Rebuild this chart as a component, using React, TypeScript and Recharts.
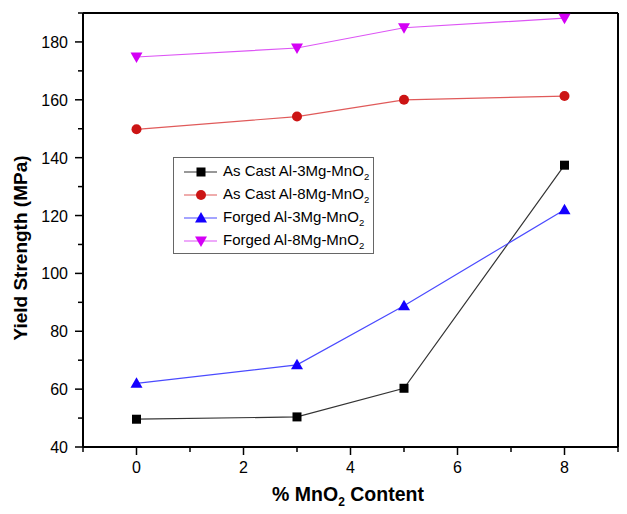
import { LineChart, Line, XAxis, YAxis, ReferenceLine } from 'recharts'

const mno2Content = [0, 3, 5, 8]
const asCast3Mg = [49.6, 50.4, 60.3, 137.4]
const asCast8Mg = [149.8, 154.2, 160.0, 161.3]
const forged3Mg = [62, 68.4, 88.8, 122]
const forged8Mg = [174.8, 177.9, 184.9, 188.2]

const xTicks = [-1, 0, 1, 2, 3, 4, 5, 6, 7, 8, 9]
const yTicks = [40, 50, 60, 70, 80, 90, 100, 110, 120, 130, 140, 150, 160, 170, 180, 190]

const seriesNames = ['As Cast Al-3Mg-MnO', 'As Cast Al-8Mg-MnO', 'Forged Al-3Mg-MnO', 'Forged Al-8Mg-MnO']

const chartData = mno2Content.map((x, i) => ({
  x,
  asCast3: asCast3Mg[i],
  asCast8: asCast8Mg[i],
  forged3: forged3Mg[i],
  forged8: forged8Mg[i],
}))

const FONT = '"Liberation Sans", Arial, sans-serif'

// marker shapes, shared by the lines and the legend
function Marker({ kind, cx, cy, color }: { kind: string, cx: number, cy: number, color: string }) {
  if (kind === 'square') return <rect x={cx - 4.5} y={cy - 4.5} width={9} height={9} fill={color} />
  if (kind === 'circle') return <circle cx={cx} cy={cy} r={5} fill={color} />
  if (kind === 'up') return <polygon points={`${cx},${cy - 6} ${cx - 6},${cy + 4.5} ${cx + 6},${cy + 4.5}`} fill={color} />
  return <polygon points={`${cx},${cy + 6} ${cx - 6},${cy - 4.5} ${cx + 6},${cy - 4.5}`} fill={color} />
}

const series = [
  { key: 'asCast3', kind: 'square', color: '#000000', line: '#333333' },
  { key: 'asCast8', kind: 'circle', color: '#cc1414', line: '#e05a5a' },
  { key: 'forged3', kind: 'up', color: '#1400ff', line: '#4a4aff' },
  { key: 'forged8', kind: 'down', color: '#d400f5', line: '#dd55f5' },
]

const XTick = (props: any) => {
  const { x, y, payload } = props
  const major = payload.value % 2 === 0
  return (
    <g>
      <line x1={x} x2={x} y1={y} y2={y + (major ? 8 : 5)} stroke="#000" strokeWidth={1.5} />
      {major && (
        <text x={x} y={y + 26} textAnchor="middle" fontSize={16} fontFamily={FONT} fill="#000">{payload.value}</text>
      )}
    </g>
  )
}

const YTick = (props: any) => {
  const { x, y, payload } = props
  const major = payload.value % 20 === 0
  return (
    <g>
      <line x1={x} x2={x - (major ? 8 : 5)} y1={y} y2={y} stroke="#000" strokeWidth={1.5} />
      {major && (
        <text x={x - 15} y={y + 6} textAnchor="end" fontSize={16} fontFamily={FONT} fill="#000">{payload.value}</text>
      )}
    </g>
  )
}

export default function App() {
  return (
    <div style={{ position: 'absolute', left: 0, top: 0, width: 627, height: 514, background: '#fff', fontFamily: FONT }}>
      <LineChart width={627} height={514} data={chartData} margin={{ top: 13, right: 9, left: 0, bottom: 0 }}>
        <XAxis
          dataKey="x"
          type="number"
          domain={[-1, 9]}
          ticks={xTicks}
          interval={0}
          height={67}
          tickLine={false}
          tickSize={0}
          tickMargin={0}
          tick={<XTick />}
          axisLine={{ stroke: '#000', strokeWidth: 2 }}
        />
        <YAxis
          type="number"
          domain={[40, 190]}
          ticks={yTicks}
          interval={0}
          width={83}
          tickLine={false}
          tickSize={0}
          tickMargin={0}
          tick={<YTick />}
          axisLine={{ stroke: '#000', strokeWidth: 2 }}
        />
        <ReferenceLine y={190} stroke="#000" strokeWidth={2} />
        <ReferenceLine x={9} stroke="#000" strokeWidth={2} />
        {series.map(s => (
          <Line
            key={s.key}
            dataKey={s.key}
            type="linear"
            stroke={s.line}
            strokeWidth={1.2}
            isAnimationActive={false}
            dot={(p: any) => <Marker key={`${s.key}-${p.index}`} kind={s.kind} cx={p.cx} cy={p.cy} color={s.color} />}
            activeDot={false}
          />
        ))}
      </LineChart>

      {/* legend box */}
      <div style={{ position: 'absolute', left: 173, top: 157, width: 199, height: 95, border: '1px solid #666', background: '#fff' }}>
        {series.map((s, i) => (
          <div key={s.key} style={{ position: 'absolute', left: 0, top: 3 + i * 23, height: 22, display: 'flex', alignItems: 'center' }}>
            <svg width={44} height={22} style={{ marginLeft: 10 }}>
              <line x1={0} x2={33} y1={11} y2={11} stroke={s.line} strokeWidth={1.2} />
              <Marker kind={s.kind} cx={17} cy={11} color={s.color} />
            </svg>
            <span style={{ fontSize: 15, color: '#000', marginLeft: -5, whiteSpace: 'nowrap' }}>
              {seriesNames[i]}<sub style={{ fontSize: 9.5 }}>2</sub>
            </span>
          </div>
        ))}
      </div>

      {/* axis titles */}
      <div style={{ position: 'absolute', left: 21, top: 248, transform: 'translate(-50%, -50%) rotate(-90deg)', fontSize: 19, fontWeight: 'bold', whiteSpace: 'nowrap' }}>
        Yield Strength (MPa)
      </div>
      <div style={{ position: 'absolute', left: 348, top: 496, transform: 'translate(-50%, -50%)', fontSize: 19.5, fontWeight: 'bold', whiteSpace: 'nowrap' }}>
        % MnO<sub style={{ fontSize: 12 }}>2</sub> Content
      </div>
    </div>
  )
}
